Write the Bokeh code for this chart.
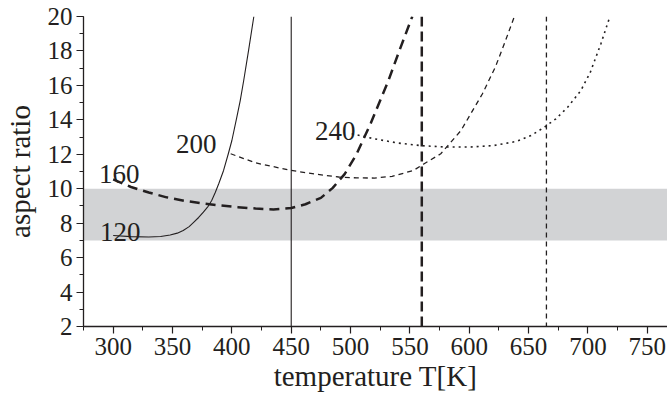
from bokeh.plotting import figure
from bokeh.models import Range1d, SingleIntervalTicker, BoxAnnotation, Span, ColumnDataSource
from bokeh.core.properties import value
from bokeh.embed import file_html
from bokeh.resources import INLINE

# ---- data ----
T120 = [300, 315, 330, 340, 348, 354, 359, 364, 368, 372, 376, 380, 383, 386, 389, 393, 397, 400, 404, 407, 410, 414, 418.5]
R120 = [7.28, 7.22, 7.2, 7.23, 7.31, 7.42, 7.57, 7.8, 8.06, 8.33, 8.64, 8.98, 9.32, 9.78, 10.3, 11.06, 12.03, 12.8, 14.1, 15.1, 16.3, 18.0, 20.0]

T160 = [300, 315, 330, 345, 360, 375, 390, 405, 420, 435, 450, 462, 475, 485, 495, 505, 517, 532, 541, 552]
R160 = [10.54, 10.1, 9.78, 9.5, 9.3, 9.15, 9.03, 8.93, 8.85, 8.8, 8.88, 9.1, 9.47, 10.05, 10.85, 12.0, 13.8, 16.3, 18.0, 20.0]

T200 = [399, 410, 420, 435, 450, 470, 490, 505, 520, 535, 553, 562, 576, 593, 611, 622, 630, 638]
R200 = [12.03, 11.75, 11.5, 11.28, 11.06, 10.85, 10.68, 10.63, 10.62, 10.72, 11.06, 11.45, 12.03, 13.38, 15.5, 17.07, 18.5, 20.0]

T240 = [501, 520, 540, 560, 580, 600, 620, 640, 652, 663, 673, 683, 694, 702, 711, 718]
R240 = [13.19, 12.9, 12.65, 12.5, 12.42, 12.42, 12.5, 12.75, 13.09, 13.56, 14.06, 14.74, 15.7, 16.77, 18.44, 19.9]

T_crit = [450, 560, 665]
band_low, band_high = 7, 10
curve_names = ["120", "160", "200", "240"]
label_T = [289, 288, 353, 470]
label_R = [7.48, 10.87, 12.61, 13.38]

x_ticks_interval = 50
y_ticks_interval = 2

# ---- styling ----
INK = "#231f20"
SERIF = "Liberation Serif"

p = figure(width=667, height=402, output_backend="svg", toolbar_location=None,
           x_range=Range1d(275, 767), y_range=Range1d(2, 20),
           min_border_left=83, min_border_right=0, min_border_top=16, min_border_bottom=76)
p.outline_line_color = None
p.xgrid.visible = False
p.ygrid.visible = False
p.background_fill_color = "white"
p.border_fill_color = "white"

band = BoxAnnotation(bottom=band_low, top=band_high, fill_color="#d2d3d5", fill_alpha=1.0,
                     line_color=None, level="underlay")
p.add_layout(band)

styles = [
    dict(line_width=1.1, line_dash="solid"),
    dict(line_width=2.5, line_dash="10 6"),
    dict(line_width=1.3, line_dash="5 4"),
    dict(line_width=1.6, line_dash="2 4"),
]
vstyles = [
    dict(line_width=1.1, line_dash="solid"),
    dict(line_width=2.5, line_dash="10 5"),
    dict(line_width=1.3, line_dash="5 4"),
]

for xs, ys, st in zip([T120, T160, T200, T240], [R120, R160, R200, R240], styles):
    p.line(xs, ys, line_color=INK, line_join="round", **st)

for loc, st in zip(T_crit, vstyles):
    p.add_layout(Span(location=loc, dimension="height", line_color=INK, **st))

src = ColumnDataSource(dict(x=label_T, y=label_R, t=curve_names))
p.text(x="x", y="y", text="t", source=src, text_font=value(SERIF), text_font_size="27px",
       text_color=INK, text_align="left", text_baseline="alphabetic")

for ax, iv in [(p.xaxis[0], x_ticks_interval), (p.yaxis[0], y_ticks_interval)]:
    ax.ticker = SingleIntervalTicker(interval=iv, num_minor_ticks=2)
    ax.axis_line_color = INK
    ax.axis_line_width = 1.3
    ax.major_tick_line_color = INK
    ax.minor_tick_line_color = INK
    ax.major_tick_line_width = 1.2
    ax.minor_tick_line_width = 1.0
    ax.major_tick_out = 7
    ax.major_tick_in = 0
    ax.minor_tick_out = 4
    ax.minor_tick_in = 0
    ax.major_label_text_font = SERIF
    ax.major_label_text_font_size = "25px"
    ax.major_label_text_color = INK
    ax.axis_label_text_font = SERIF
    ax.axis_label_text_font_size = "29px"
    ax.axis_label_text_font_style = "normal"
    ax.axis_label_text_color = INK

p.xaxis.axis_label = "temperature T[K]"
p.yaxis.axis_label = "aspect ratio"
p.xaxis.major_label_standoff = 4
p.yaxis.major_label_standoff = 4
p.xaxis.axis_label_standoff = 2
p.yaxis.axis_label_standoff = 9

open("out.html", "w").write(file_html(p, INLINE))
